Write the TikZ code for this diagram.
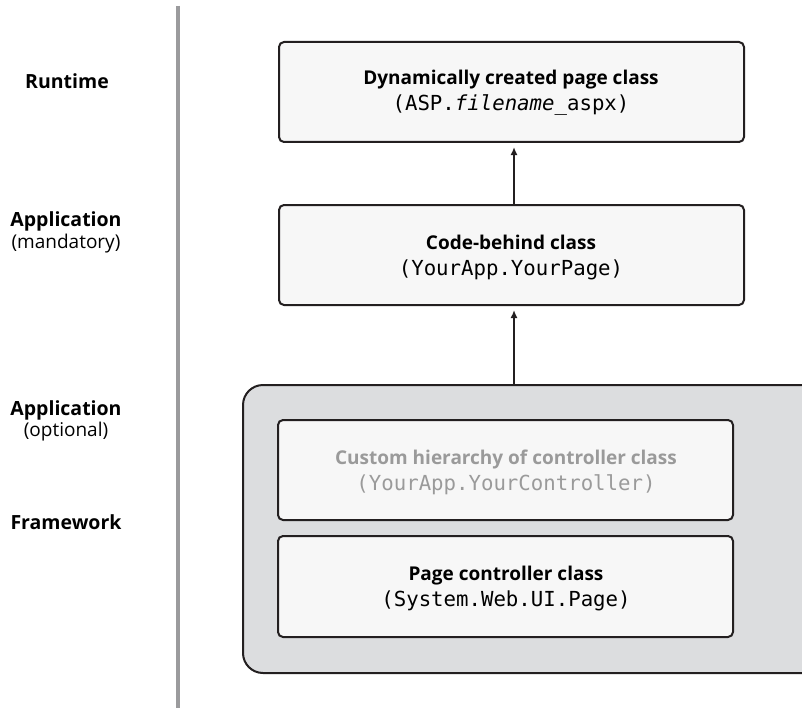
\documentclass[tikz,border=0pt]{standalone}
\usepackage{fontspec}
\setmainfont{Open Sans}
\newfontfamily\codefont{DejaVu Sans Mono}
\usetikzlibrary{arrows.meta}
\definecolor{boxfill}{HTML}{F7F7F7}
\definecolor{outerfill}{HTML}{DCDDDF}
\definecolor{edge}{HTML}{231F20}
\definecolor{dimtext}{HTML}{9A9A9A}
\definecolor{axis}{HTML}{9B9B9D}
\tikzset{
  classbox/.style={draw=edge, line width=2bp, fill=boxfill, rounded corners=5bp},
  outerbox/.style={draw=edge, line width=2bp, fill=outerfill, rounded corners=20bp},
  boldtxt/.style={font=\fontsize{19bp}{22bp}\selectfont\bfseries, anchor=base},
  codetxt/.style={font=\fontsize{20.7bp}{22bp}\selectfont\codefont, anchor=base},
  sidebold/.style={font=\fontsize{19.5bp}{22bp}\selectfont\bfseries, anchor=base},
  sidereg/.style={font=\fontsize{19bp}{22bp}\selectfont, anchor=base},
  uparrow/.style={draw=edge, line width=1.6bp, -{Latex[length=8bp,width=7bp]}, shorten >=5bp}
}
\begin{document}
\begin{tikzpicture}[x=1bp,y=-1bp]
\useasboundingbox (0,0) rectangle (802,708);
\begin{scope}
\clip (0,0) rectangle (802,708);
% axis line
\draw[axis, line width=4bp] (178,6) -- (178,708);
% outer frame
\draw[outerbox] (243,385) rectangle (830,673);
\end{scope}
\coordinate (outertop) at (514,385);
% boxes
\draw[classbox] (279,42) rectangle (744,142);
\coordinate (b1bot) at (514,142);
\draw[classbox] (279,205) rectangle (744,305);
\coordinate (b2top) at (514,205);
\coordinate (b2bot) at (514,305);
\draw[classbox] (278,420) rectangle (733,520);
\draw[classbox] (278,536) rectangle (733,637);
% box texts
\node[boldtxt] (t1a) at (511,85) {Dynamically created page class};
\node[codetxt] (t1b) at (511,111) {(ASP.\textit{filename\_}aspx)};
\node[boldtxt] (t2a) at (511,249) {Code-behind class};
\node[codetxt] (t2b) at (511,275) {(YourApp.YourPage)};
\node[boldtxt, text=dimtext] (t3a) at (506,464) {Custom hierarchy of controller class};
\node[codetxt, text=dimtext] (t3b) at (506,490) {(YourApp.YourController)};
\node[boldtxt] (t4a) at (506,580) {Page controller class};
\node[codetxt] (t4b) at (506,606) {(System.Web.UI.Page)};
% arrows
\draw[uparrow] (b2top) -- (b1bot);
\draw[uparrow] (outertop) -- (b2bot);
% side labels
\node[sidebold] (l1) at (67,89) {Runtime};
\node[sidebold] (l2) at (66,226) {Application};
\node[sidereg] (l2b) at (66,248) {(mandatory)};
\node[sidebold] (l3) at (66,415) {Application};
\node[sidereg] (l3b) at (66,436) {(optional)};
\node[sidebold] (l4) at (66,529) {Framework};
\end{tikzpicture}
\end{document}
